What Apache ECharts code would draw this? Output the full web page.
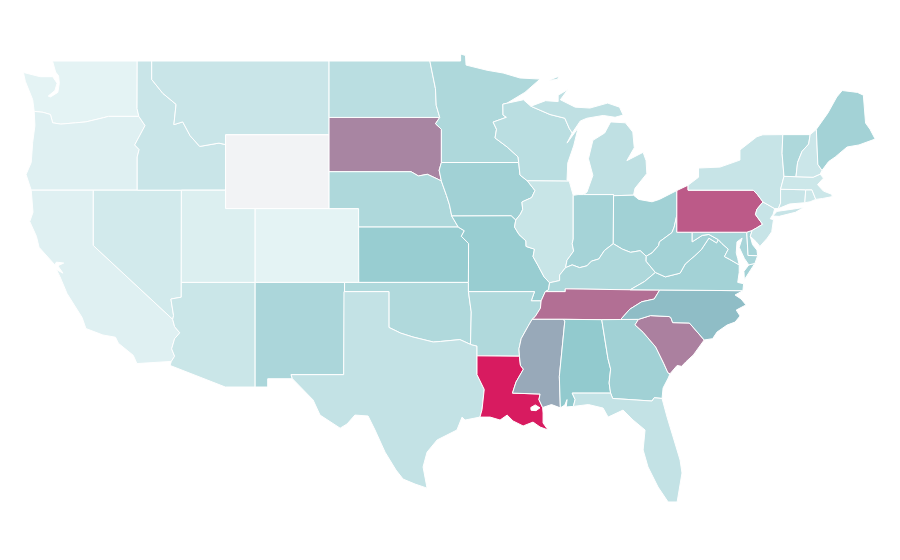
<!DOCTYPE html>
<html><head><meta charset="utf-8">
<style>html,body{margin:0;background:#fff}#c{width:900px;height:560px}</style>
<script src="https://cdn.jsdelivr.net/npm/echarts@6/dist/echarts.min.js"></script>
</head><body><div id="c"></div>
<script>
// Data values per state
const stateNames = ['Washington','Oregon','California','Nevada','Idaho','Montana','Wyoming','Utah','Colorado','Arizona','New Mexico','North Dakota','South Dakota','Nebraska','Kansas','Oklahoma','Texas','Minnesota','Iowa','Missouri','Arkansas','Louisiana','Wisconsin','Illinois','Michigan','Indiana','Ohio','Kentucky','Tennessee','Mississippi','Alabama','Georgia','Florida','South Carolina','North Carolina','Virginia','West Virginia','Maryland','Delaware','Pennsylvania','New Jersey','New York','Connecticut','Rhode Island','Massachusetts','Vermont','New Hampshire','Maine'];
const stateValues = [2,5,5,12,16.7,16.7,0,6.5,2,16,33,25,69,31,43,30,20,31,38,43,30,100,25,17,22,36,38,31,75.5,58.5,46,38,20,70.5,52.5,37,37,34,36,81.5,18,18,18,15,15,31,15.6,37];
const rampColors = ['#e8f5f6','#8bc6cb','#d81b60'];
const belowRangeColor = '#f2f3f5';

// Shared borders, [longitude, latitude]
const mnWi=[[-92.02,46.71],[-92.29,46.66],[-92.28,46.07],[-92.05,45.95],[-92.95,45.69],[-92.72,45.3],[-92.82,44.83],[-92,44.34],[-91.26,43.8],[-91.22,43.5]];
const wiIa=[[-91.22,43.5],[-91.13,42.82],[-90.64,42.51]];
const ilIa=[[-90.64,42.51],[-90.12,41.98],[-90.34,41.6],[-91,41.36],[-90.95,40.95],[-91.11,40.69],[-91.42,40.38]];
const ilMo=[[-91.42,40.38],[-91.5,40],[-91.2,39.6],[-90.73,39.25],[-90.72,38.95],[-90.15,38.8],[-90.25,38.4],[-89.9,37.9],[-89.5,37.3],[-89.13,36.98]];
const kyMo=[[-89.13,36.98],[-89.2,36.6],[-89.42,36.5]];
const tnMo=[[-89.42,36.5],[-89.7,36]];
const tnAr=[[-89.7,36],[-89.75,35.6],[-90.1,35.15],[-90.31,35]];
const msAr=[[-90.31,35],[-90.6,34.6],[-91.05,33.95],[-91.2,33.4],[-91.17,33]];
const msLa=[[-91.17,33],[-91.1,32.5],[-90.9,32.3],[-91.4,31.6],[-91.64,31],[-89.77,30.95],[-89.85,30.65],[-89.6,30.22]];
const sdNe=[[-104.05,43],[-98.5,43],[-98,42.77],[-97.4,42.86],[-96.7,42.6],[-96.45,42.49]];
const neIa=[[-96.45,42.49],[-96.1,41.7],[-95.9,41.2],[-95.75,40.6]];
const neMo=[[-95.75,40.6],[-95.31,40]];
const ksMo=[[-95.31,40],[-94.9,39.8],[-95.1,39.5],[-94.61,39.11],[-94.62,37]];
const sdIa=[[-96.45,42.49],[-96.6,43.08],[-96.45,43.5]];
const sdMn=[[-96.45,43.5],[-96.45,45.3],[-96.85,45.6],[-96.56,45.94]];
const ndMn=[[-96.56,45.94],[-96.8,46.6],[-96.85,47.5],[-97.23,49]];
const wiMi=[[-90.4,46.55],[-89.1,46.1],[-88.1,45.9],[-87.8,45.35],[-87.6,45.1]];
const ilIn=[[-87.53,41.72],[-87.53,39.35],[-87.6,39.1],[-87.5,38.7],[-87.95,38.2],[-88.05,37.8]];
const ilKy=[[-88.05,37.8],[-88.45,37.4],[-88.45,37.1],[-89.13,36.98]];
const inKy=[[-88.05,37.8],[-87.6,37.95],[-87.1,37.8],[-86.6,37.9],[-86.3,38.15],[-85.8,38.27],[-85.42,38.73],[-84.82,39.1]];
const ohWv=[[-80.52,40.64],[-80.7,40],[-80.85,39.7],[-81.7,39.2],[-81.75,39],[-82.2,38.6],[-82.59,38.42]];
const ohKy=[[-82.59,38.42],[-83,38.72],[-83.65,38.63],[-84.2,38.8],[-84.82,39.1]];
const kyWv=[[-82.59,38.42],[-82.6,38.15],[-81.97,37.54]];
const kyVa=[[-81.97,37.54],[-82.7,37.05],[-83.68,36.6]];
const kyTn=[[-83.68,36.6],[-88.07,36.65],[-88.07,36.5],[-89.42,36.5]];
const tnNc=[[-81.68,36.59],[-82.05,36.1],[-82.9,35.95],[-83.7,35.55],[-84.32,34.99]];
const tnSouth=[[-84.32,34.99],[-85.6,34.98],[-88.2,35],[-90.31,35]];
const vaWv=[[-81.97,37.54],[-81.3,37.3],[-80.3,37.5],[-79.95,38],[-79.3,38.45],[-78.87,38.77],[-78.35,39.4],[-77.83,39.14],[-77.72,39.32]];
const mdVa=[[-77.72,39.32],[-77.46,39.1],[-77.04,38.8],[-77.3,38.4],[-76.95,38.25],[-76.3,37.95]];
const mdWv=[[-77.72,39.32],[-78.35,39.6],[-78.8,39.55],[-79.48,39.2],[-79.48,39.72]];
const paNj=[[-75.42,39.82],[-75.13,39.95],[-74.72,40.15],[-75.2,40.68],[-75.1,40.97],[-74.69,41.36]];
const paNy=[[-74.69,41.36],[-75.05,41.75],[-75.35,42],[-79.76,42],[-79.76,42.27]];
const ncSc=[[-78.67,33.88],[-79.67,34.8],[-80.8,34.82],[-80.93,35.1],[-81.05,35.15],[-82.3,35.2],[-83.11,35]];
const scGa=[[-83.11,35],[-83.35,34.7],[-82.8,34.3],[-81.95,33.5],[-81.4,32.6],[-81.12,32.1],[-80.98,32.05]];
const gaFl=[[-81.52,30.71],[-82.05,30.75],[-82.2,30.57],[-84.86,30.71]];
const gaAl=[[-84.86,30.71],[-85,31],[-85.1,31.55],[-85,32.3],[-85.18,32.87],[-85.6,34.98]];
const alFl=[[-85,31],[-87.6,31],[-87.4,30.65],[-87.52,30.28]];
const alMs=[[-88.4,30.2],[-88.47,31.9],[-88.1,34.9],[-88.2,35]];
const laTx=[[-93.84,29.7],[-93.7,30.1],[-93.55,31.2],[-94.04,32],[-94.04,33.02]];
const redRiver=[[-94.48,33.64],[-95.2,33.9],[-96.5,33.8],[-97,33.77],[-98.37,34.04],[-99.2,34.25],[-100,34.56]];
const arOk=[[-94.48,33.64],[-94.43,35.4],[-94.62,36.5]];
const arMo=[[-94.62,36.5],[-90.15,36.5],[-90.37,36],[-89.7,36]];
const azCa=[[-114.63,35],[-114.5,34.6],[-114.15,34.27],[-114.5,33.95],[-114.7,33.4],[-114.5,33],[-114.72,32.72]];
const azNv=[[-114.05,36.2],[-114.75,36.1],[-114.57,35.2],[-114.63,35]];
const mtId=[[-116.05,49],[-116.05,48],[-115.3,47.25],[-114.4,46.65],[-114.55,45.55],[-113.95,45.7],[-113.45,44.95],[-112.8,44.37],[-111.5,44.55],[-111.05,44.47]];
const idOr=[[-117.03,42],[-117.03,43.8],[-116.9,44.2],[-117.2,44.45],[-116.5,45.5],[-116.92,46]];
const waOr=[[-116.92,46],[-118.98,46],[-119.3,45.93],[-120.5,45.7],[-121.2,45.65],[-122.2,45.58],[-122.75,45.65],[-122.9,46.1],[-123.4,46.22],[-124,46.27]];
const vtNh=[[-71.5,45.01],[-71.6,44.5],[-72.05,44.1],[-72.35,43.5],[-72.46,42.73]];
const nyNe=[[-73.27,42.75],[-73.4,44],[-73.35,45.01]];
const nyCt=[[-73.65,41],[-73.5,41.3],[-73.5,42.05]];

const rev=a=>a.slice().reverse();
const join=(...parts)=>[].concat(...parts);

// State outlines
const stateShapes = {
Washington:[join([[-122.76,49],[-117.03,49],[-117.04,46.42]],waOr,[[-124.1,46.9],[-124.6,47.9],[-124.73,48.38],[-123.6,48.15],[-122.75,48.15],[-122.45,47.8],[-122.6,47.4],[-123.05,47.1],[-122.9,47.05],[-122.4,47.3],[-122.3,47.8],[-122.35,48.2],[-122.55,48.4]])],
Oregon:[join(idOr,waOr,[[-123.95,45.5],[-124.1,44.6],[-124.2,43.5],[-124.55,42.85],[-124.2,42]])],
California:[join([[-124.2,42],[-120,42],[-120,39]],azCa,[[-117.05,32.6],[-117.3,33.05],[-118.3,33.7],[-118.5,34.03],[-119.35,34.15],[-120.5,34.5],[-120.76,35.1],[-121.78,36.4],[-122.25,37.3],[-122.5,37.7],[-122.05,37.5],[-122.4,37.9],[-122,38.05],[-122.5,38.1],[-122.6,37.95],[-123.67,38.9],[-123.85,39.5],[-124.3,40.3],[-124.08,40.8]])],
Nevada:[join([[-120,42],[-114.04,42]],azNv,[[-120,39]])],
Idaho:[join([[-117.03,49]],mtId,[[-111.05,42]],idOr,[[-117.04,46.42]])],
Montana:[join(mtId,[[-111.05,45],[-104.05,45],[-104.05,49]])],
Wyoming:[[[-111.05,45],[-104.05,45],[-104.05,41],[-111.05,41]]],
Utah:[[[-114.04,42],[-111.05,42],[-111.05,41],[-109.05,41],[-109.05,37],[-114.05,37]]],
Colorado:[[[-109.05,41],[-102.05,41],[-102.05,37],[-109.05,37]]],
Arizona:[join([[-114.05,37],[-109.05,37],[-109.05,31.33],[-111.07,31.33],[-114.81,32.5]],rev(azCa),rev(azNv))],
'New Mexico':[[[-109.05,37],[-103,37],[-103.06,32],[-106.62,32],[-106.53,31.78],[-108.2,31.78],[-108.2,31.33],[-109.05,31.33]]],
'North Dakota':[join([[-104.05,49]],rev(ndMn),[[-104.05,45.94]])],
'South Dakota':[join([[-104.05,45.94]],rev(sdMn),rev(sdIa),rev(sdNe))],
Nebraska:[join(sdNe,neIa,neMo,[[-102.05,40],[-102.05,41],[-104.05,41]])],
Kansas:[join([[-102.05,40]],ksMo,[[-102.04,37]])],
Oklahoma:[join([[-103,37],[-94.62,37]],rev(arOk),redRiver,[[-100,36.5],[-103,36.5]])],
Texas:[join([[-103.04,36.5],[-100,36.5]],rev(redRiver),[[-94.04,33.55]],rev(laTx),[[-94.85,29.54],[-95.05,29.7],[-95.4,29],[-96.74,28.46],[-97.42,27.8],[-97.69,27],[-97.42,25.85],[-98.23,26.07],[-99.04,26.34],[-99.52,26.83],[-100.26,27.8],[-100.94,29],[-101.41,29.76],[-102.3,29.81],[-102.83,29.33],[-103.3,29.1],[-104.66,29.81],[-105.13,30.63],[-106.53,31.78],[-106.62,32],[-103.06,32]])],
Minnesota:[join([[-97.23,49],[-95.15,49],[-95.15,49.38],[-94.82,49.3],[-94.78,48.78],[-93.36,48.5],[-92.27,48.35],[-91.13,48.08],[-89.77,48.02],[-90.8,47.3]],mnWi,sdMn,ndMn)],
Iowa:[join([[-96.45,43.5]],wiIa,ilIa,[[-91.73,40.61]],rev(neIa),sdIa)],
Missouri:[join([[-95.75,40.6],[-91.73,40.61]],ilMo,kyMo.slice(1),tnMo.slice(1),rev(arMo),rev(ksMo),rev(neMo).slice(1))],
Arkansas:[join(arMo,tnAr.slice(1),msAr.slice(1),[[-94.04,33.02],[-94.04,33.55]],arOk)],
Louisiana:[join(msLa,[[-89.57,29.92],[-89.57,29.38],[-89.23,29],[-89.77,29.16],[-90.25,29.43],[-90.92,29.22],[-91.6,29.49],[-92,29.81],[-92.48,29.54],[-93.15,29.7]],laTx), [[-90.38,30.07],[-90.05,30.05],[-89.78,30.2],[-90.1,30.36],[-90.4,30.22]]],
Wisconsin:[join(mnWi,wiIa.slice(1),[[-87.8,42.49],[-87.95,42.55],[-87.9,43.47],[-87.5,44.4],[-87.2,45.37],[-87.95,44.55],[-87.6,45.1]],rev(wiMi),[[-90.9,46.9]])],
Illinois:[join(ilIa,ilMo.slice(1),rev(ilKy),rev(ilIn),[[-87.8,42.49]])],
Michigan:{parts:[
 [[-86.82,41.76],[-84.8,41.76],[-84.8,41.7],[-83.45,41.73],[-83.35,42.1],[-82.55,42.9],[-82.6,43.6],[-82.8,44.05],[-83.9,43.6],[-83.4,44.3],[-83.5,45.15],[-84,45.65],[-85,45.7],[-85.4,45.1],[-86.2,44.7],[-86.5,43.7],[-86.2,42.8],[-86.6,41.9]],
 join(wiMi,[[-87.05,45.75],[-86.6,45.9],[-85.5,46.05],[-84.7,45.95],[-84.15,46.07],[-84.4,46.5],[-85.2,46.72],[-86.4,46.45],[-87.4,46.5],[-88.4,46.9],[-87.9,47.45],[-88.55,47.15],[-88.55,46.8],[-89.4,46.85]]),
 [[-89.2,47.95],[-88.5,48.18],[-88.6,48]]]},
Indiana:[join(ilIn,inKy.slice(1),[[-84.8,41.76],[-86.82,41.76],[-87.2,41.76]])],
Ohio:[join([[-84.8,41.7],[-83.45,41.73],[-83.1,41.5],[-82.2,41.37],[-81.7,41.5],[-80.52,41.98]],ohWv,ohKy.slice(1))],
Kentucky:[join(inKy,rev(ohKy).slice(1),kyWv.slice(1),kyVa.slice(1),kyTn.slice(1),rev(kyMo).slice(1),rev(ilKy).slice(1))],
Tennessee:[join([[-83.68,36.6],[-81.68,36.59]],tnNc.slice(1),tnSouth.slice(1),rev(tnAr).slice(1),rev(tnMo).slice(1),rev(kyTn).slice(1))],
Mississippi:[join([[-88.2,35]],rev(alMs).slice(1),[[-89,30.38]],rev(msLa),rev(msAr).slice(1))],
Alabama:[join(alMs,[[-85.6,34.98]],rev(gaAl).slice(1,-1),alFl.slice(1),[[-88,30.25],[-87.95,30.65],[-88.1,30.35]])],
Georgia:[join([[-85.6,34.98],[-84.32,34.99],[-83.11,35]],scGa.slice(1),[[-81.1,31.82],[-81.45,31.28]],gaFl,gaAl.slice(1))],
Florida:[join(rev(alFl),[[-84.86,30.71]],rev(gaFl).slice(1),[[-81.18,29.7],[-80.77,28.62],[-80.3,27.37],[-80.17,26.67],[-80.5,25.1],[-81.11,25.1],[-81.79,25.91],[-82.47,27],[-82.8,27.92],[-82.67,29],[-83.48,29.54],[-84.16,30.08],[-85.17,29.7],[-85.51,30.19],[-86.5,30.38]])],
'South Carolina':[join(ncSc,scGa.slice(1),[[-80.5,32.5],[-80.2,32.45],[-79.9,32.7],[-79.4,33.07]])],
'North Carolina':[join([[-81.68,36.59],[-76.05,36.55],[-76.58,36.32],[-76.17,36.1],[-75.84,35.78],[-76.5,35.5],[-76.24,35.18],[-76.58,34.85],[-77.12,34.69],[-77.8,34.31],[-78.1,33.95]],ncSc,[[-84.32,34.99]],rev(tnNc).slice(1))],
Virginia:{parts:[
 join(rev(kyVa),vaWv.slice(1),mdVa.slice(1),[[-76.3,37.55],[-76.4,37],[-76,36.93],[-76.05,36.55],[-81.68,36.59]]),
 [[-75.65,37.95],[-75.24,38.03],[-75.95,37.15],[-75.98,37.6]]]},
'West Virginia':[join(ohWv,kyWv.slice(1),vaWv.slice(1),mdWv.slice(1),[[-80.52,39.72]])],
Maryland:[join([[-79.48,39.72],[-75.79,39.72],[-75.7,38.46],[-75.05,38.45],[-75.24,38.03],[-75.65,37.95],[-75.95,38.3],[-76.3,38.9],[-76.1,39.4],[-76.45,39.2],[-76.5,38.6],[-76.4,38.3]],rev(mdVa),mdWv.slice(1,-1))],
Delaware:[[[-75.79,39.72],[-75.42,39.82],[-75.55,39.5],[-75.4,39.05],[-75.1,38.75],[-75.05,38.45],[-75.7,38.46]]],
Pennsylvania:[join([[-80.52,41.98]],rev(paNy),rev(paNj),[[-75.79,39.72],[-80.52,39.72]])],
'New Jersey':[join(paNj,[[-73.9,41],[-74,40.7],[-74.2,40.45],[-73.98,40.4],[-74.1,39.75],[-74.4,39.4],[-74.9,38.95],[-75.15,39.2],[-75.55,39.5]])],
'New York':{parts:[
 join(paNy,[[-79.05,42.7],[-79.05,43.2],[-77.6,43.25],[-76.25,43.63],[-76.25,44.18],[-75.1,44.9],[-74.7,45]],rev(nyNe),[[-73.5,42.05],[-73.5,41.3],[-73.65,41],[-73.9,41]]),
 [[-74.03,40.6],[-73.75,40.85],[-72.6,40.98],[-71.9,41.07],[-72.5,40.8],[-73.6,40.58]]]},
Connecticut:[join(nyCt,[[-71.8,42.02],[-71.86,41.32],[-72.9,41.25]])],
'Rhode Island':[[[-71.8,42.02],[-71.38,42.02],[-71.12,41.5],[-71.5,41.37],[-71.86,41.32]]],
Massachusetts:[[[-73.5,42.05],[-73.27,42.75],[-72.46,42.73],[-71.3,42.7],[-70.82,42.87],[-70.6,42.65],[-71,42.3],[-70.6,41.95],[-70.05,41.78],[-70,41.65],[-70.65,41.55],[-71.12,41.5],[-71.38,42.02],[-71.8,42.02]]],
Vermont:[join(nyNe,vtNh)],
'New Hampshire':[join(vtNh.slice(0,1),[[-71.08,45.3],[-70.98,43.4],[-70.7,43.07],[-70.82,42.87],[-71.3,42.7]],rev(vtNh).slice(0,-1))],
Maine:[[[-71.08,45.3],[-70.3,46.18],[-69.7,47.05],[-69.33,47.4],[-68.3,47.3],[-67.9,47.15],[-67.75,45.64],[-67.45,45.3],[-67.1,44.77],[-68.2,44.45],[-69,44.34],[-69.8,43.8],[-70.25,43.55],[-70.7,43.07],[-70.98,43.4]]]
};

const features = stateNames.map(name => {
  const s = stateShapes[name];
  const closed = r => r.concat([r[0]]);
  const geometry = s.parts
    ? {type:'MultiPolygon', coordinates:s.parts.map(p=>[closed(p)])}
    : {type:'Polygon', coordinates:s.map(closed)};
  return {type:'Feature', properties:{name}, geometry};
});
echarts.registerMap('USA', {type:'FeatureCollection', features});

const chart = echarts.init(document.getElementById('c'), null, {renderer:'canvas'});
chart.setOption({
  animation:false,
  backgroundColor:'#fff',
  visualMap:{show:false, min:0, max:100, range:[0.5,100], inRange:{color:rampColors}, outOfRange:{color:belowRangeColor}},
  series:[{
    type:'map', map:'USA', roam:false,
    aspectScale:0.801,
    boundingCoords:[[-124.73,49.38],[-66.95,25.12]],
    left:23.4, top:54, width:854, height:447.6,
    label:{show:false},
    itemStyle:{borderColor:'#fff', borderWidth:1},
    data:stateNames.map((name,i)=>({name, value:stateValues[i]}))
  }]
});
</script></body></html>
